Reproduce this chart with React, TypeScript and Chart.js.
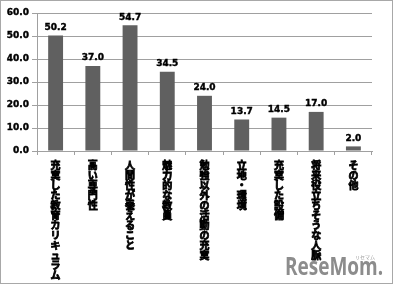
import React, { useEffect, useRef } from "react";
import { Chart, registerables } from "chart.js";

Chart.register(...registerables);

const categories = [
  "充実した教育カリキュラム",
  "高い専門性",
  "人間性が養えること",
  "魅力的な教員",
  "勉強以外の活動の充実",
  "立地・環境",
  "充実した設備",
  "将来役立ちそうな人脈",
  "その他",
];
const values = [50.2, 37.0, 54.7, 34.5, 24.0, 13.7, 14.5, 17.0, 2.0];
const yTicks = [0, 10, 20, 30, 40, 50, 60];

const W = 395;
const H = 289;
const BAR = "#606060";
const GRID = "#a0a0a0";

const decor = {
  id: "decor",
  beforeDraw(chart: any) {
    const ctx = chart.ctx;
    ctx.save();
    ctx.fillStyle = "#ffffff";
    ctx.fillRect(0, 0, W, H);
    ctx.strokeStyle = "#a8a8a8";
    ctx.lineWidth = 1;
    ctx.strokeRect(0.5, 0.5, 392, 283);
    // watermark
    ctx.fillStyle = "#8c8c8c";
    ctx.textBaseline = "alphabetic";
    ctx.textAlign = "left";
    ctx.translate(285, 275);
    ctx.scale(0.76, 1);
    ctx.font = 'bold 25px "Open Sans"';
    ctx.fillText("ReseMom.", 0, 0);
    ctx.restore();
    ctx.save();
    ctx.fillStyle = "#999999";
    ctx.font = '5px "Noto Sans CJK JP"';
    ctx.textAlign = "center";
    ctx.textBaseline = "middle";
    ctx.fillText("リセマム", 365, 257);
    ctx.restore();
  },
  afterDatasetsDraw(chart: any) {
    const ctx = chart.ctx;
    const meta = chart.getDatasetMeta(0);
    ctx.save();
    ctx.fillStyle = "#000000";
    ctx.strokeStyle = "#000000";
    ctx.lineWidth = 0.4;
    ctx.font = 'bold 9px "DejaVu Sans"';
    ctx.textAlign = "center";
    ctx.textBaseline = "middle";
    meta.data.forEach((el: any, i: number) => {
      const t = values[i].toFixed(1);
      ctx.strokeText(t, el.x, el.y - 8);
      ctx.fillText(t, el.x, el.y - 8);
    });
    ctx.restore();
  },
};

export default function App() {
  const ref = useRef<HTMLCanvasElement>(null);
  useEffect(() => {
    const chart = new Chart(ref.current as HTMLCanvasElement, {
      type: "bar",
      data: {
        labels: categories.map((c) => Array.from(c)),
        datasets: [
          {
            data: values,
            backgroundColor: BAR,
            barPercentage: 0.4,
            categoryPercentage: 1,
          },
        ],
      },
      options: {
        animation: false,
        responsive: false,
        devicePixelRatio: 1,
        layout: { padding: { top: 13, right: 23, left: 0, bottom: 0 } },
        plugins: { legend: { display: false }, tooltip: { enabled: false } },
        scales: {
          x: {
            offset: true,
            grid: {
              offset: true,
              drawOnChartArea: false,
              drawTicks: true,
              tickLength: 4,
              color: GRID,
            },
            border: { display: true, color: GRID },
            ticks: {
              autoSkip: false,
              maxRotation: 0,
              minRotation: 0,
              padding: 5,
              color: "#000000",
              textStrokeColor: "#000000",
              textStrokeWidth: 0.8,
              font: { family: '"Noto Sans CJK JP"', weight: "bold", size: 10, lineHeight: 1.0 },
            },
            afterFit(scale: any) {
              scale.height = 138;
            },
          },
          y: {
            min: 0,
            max: 60,
            afterBuildTicks(scale: any) {
              scale.ticks = yTicks.map((v) => ({ value: v }));
            },
            grid: { color: GRID, tickLength: 5, drawTicks: true },
            border: { display: true, color: GRID },
            ticks: {
              padding: 3,
              color: "#000000",
              textStrokeColor: "#000000",
              textStrokeWidth: 0.4,
              font: { family: '"DejaVu Sans"', weight: "bold", size: 9 },
              callback: (v: any) => Number(v).toFixed(1),
            },
            afterFit(scale: any) {
              scale.width = 37;
            },
          },
        },
      },
      plugins: [decor],
    } as any);
    return () => chart.destroy();
  }, []);
  return (
    <div style={{ position: "fixed", left: 0, top: 0, width: W, height: H, background: "#fff" }}>
      <canvas ref={ref} width={W} height={H} style={{ width: W, height: H, display: "block" }} />
    </div>
  );
}
